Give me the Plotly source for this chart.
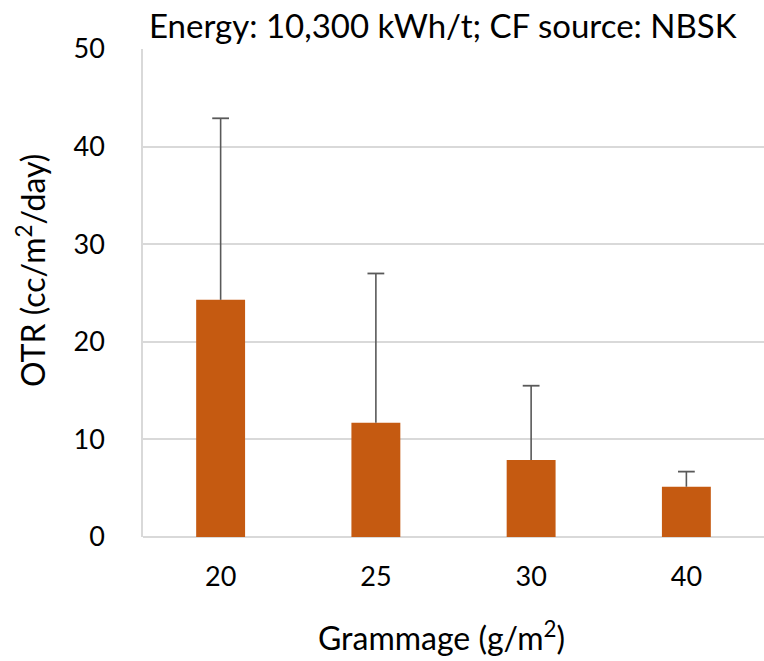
import plotly.graph_objects as go

# Oxygen transmission rate by sheet grammage
grammage = ["20", "25", "30", "40"]
otr_mean = [24.3, 11.7, 7.9, 5.15]
otr_err_plus = [18.6, 15.3, 7.6, 1.55]

FONT = "Lato"
BAR_COLOR = "#C55A11"
GRID_COLOR = "#D9D9D9"
ERR_COLOR = "#595959"

otr_upper = [m + e for m, e in zip(otr_mean, otr_err_plus)]

# one-sided (plus) error whiskers: vertical stems from bar top to upper value
stem_x, stem_y = [], []
for g, m, u in zip(grammage, otr_mean, otr_upper):
    stem_x += [g, g, None]
    stem_y += [m, u, None]

fig = go.Figure()
fig.add_trace(
    go.Bar(
        x=grammage,
        y=otr_mean,
        width=0.315,
        marker=dict(color=BAR_COLOR, line=dict(width=0)),
    )
)
fig.add_trace(
    go.Scatter(
        x=stem_x, y=stem_y,
        mode="lines",
        line=dict(color=ERR_COLOR, width=1.6),
        hoverinfo="skip",
    )
)
fig.add_trace(
    go.Scatter(
        x=grammage, y=otr_upper,
        mode="markers",
        marker=dict(symbol="line-ew-open", size=12, color=ERR_COLOR,
                    line=dict(color=ERR_COLOR, width=1.8)),
        hoverinfo="skip",
    )
)

fig.update_layout(
    width=764,
    height=661,
    margin=dict(l=143, r=0, t=49, b=124),
    paper_bgcolor="white",
    plot_bgcolor="white",
    showlegend=False,
    font=dict(family=FONT, size=27, color="#000000"),
)

fig.update_xaxes(
    type="category",
    range=[-0.5, 3.5],
    showgrid=False,
    showline=False,
    ticks="",
    tickfont=dict(size=27),
    ticklabelstandoff=21,
)
fig.update_yaxes(
    range=[0, 50],
    tickvals=[0, 10, 20, 30, 40, 50],
    showgrid=True,
    gridcolor=GRID_COLOR,
    gridwidth=1.5,
    showline=True,
    linecolor=GRID_COLOR,
    linewidth=1.5,
    zeroline=True,
    zerolinecolor=GRID_COLOR,
    zerolinewidth=1.5,
    ticks="",
    tickfont=dict(size=27),
    ticklabelstandoff=31,
)

fig.add_annotation(
    text="Energy: 10,300 kWh/t; CF source: NBSK",
    xref="paper", yref="paper",
    x=(443 - 143) / 621, y=1 + 24 / 488,
    xanchor="center", yanchor="middle",
    showarrow=False,
    font=dict(size=33),
)
fig.add_annotation(
    text="OTR (cc/m<sup>2</sup>/day)",
    xref="paper", yref="paper",
    x=-(143 - 31) / 621, y=(537 - 271) / 488,
    xanchor="center", yanchor="middle",
    textangle=-90,
    showarrow=False,
    font=dict(size=32),
)
fig.add_annotation(
    text="Grammage (g/m<sup>2</sup>)",
    xref="paper", yref="paper",
    x=(441 - 143) / 621, y=-(636 - 537) / 488,
    xanchor="center", yanchor="middle",
    showarrow=False,
    font=dict(size=32),
)

fig.write_html("out.html")
